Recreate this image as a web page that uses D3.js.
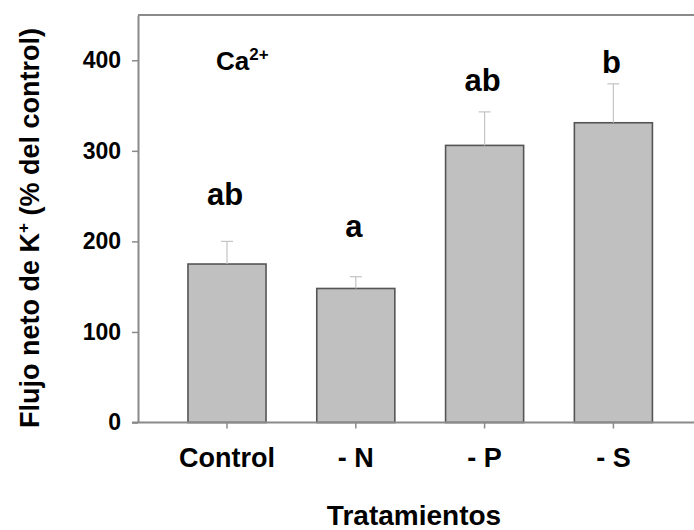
<!DOCTYPE html>
<html>
<head>
<meta charset="utf-8">
<script src="https://cdn.jsdelivr.net/npm/d3@7"></script>
<style>
  html, body { margin: 0; padding: 0; background: #fff; }
  svg { display: block; font-family: "Liberation Sans", Arial, Helvetica, sans-serif; font-weight: bold; }
</style>
</head>
<body>
<svg id="chart" width="694" height="530"></svg>
<script>
// Net K+ flux per treatment, % of control (Ca2+ medium)
const treatments = ["Control", "- N", "- P", "- S"];
const fluxMean = [175, 148, 306, 331];
const fluxSE = [25, 13, 37, 43];
const groupLetters = ["ab", "a", "ab", "b"];
const yTicks = [0, 100, 200, 300, 400];

// level (in % units) at which each significance letter sits
const letterLevel = [240, 205, 366, 386];

const svg = d3.select("#chart");
const plotLeft = 138, plotTop = 15, plotBottom = 422.5, plotRight = 720;

const y = d3.scaleLinear().domain([0, 450]).range([plotBottom, plotTop]);
const x = d3.scaleBand()
  .domain(treatments)
  .range([162.6, 677.8])
  .paddingInner(0.394)
  .paddingOuter(0.197);

const axisColor = "#8a8a8a";
const fontFam = "'Liberation Sans', Arial, sans-serif";

// frame: top edge and baseline run past the right side
svg.append("line")
  .attr("x1", plotLeft).attr("x2", plotRight)
  .attr("y1", y(450)).attr("y2", y(450))
  .attr("stroke", axisColor).attr("stroke-width", 2);

// bars
svg.append("g").selectAll("rect")
  .data(treatments)
  .join("rect")
  .attr("x", d => x(d))
  .attr("width", x.bandwidth())
  .attr("y", (d, i) => y(fluxMean[i]))
  .attr("height", (d, i) => y(0) - y(fluxMean[i]))
  .attr("fill", "#c0c0c0")
  .attr("stroke", "#555")
  .attr("stroke-width", 1.6);

// upper error bars
const err = svg.append("g").attr("stroke", "#c4c4c4").attr("stroke-width", 1.2);
treatments.forEach((d, i) => {
  const cx = x(d) + x.bandwidth() / 2;
  err.append("line")
    .attr("x1", cx).attr("x2", cx)
    .attr("y1", y(fluxMean[i])).attr("y2", y(fluxMean[i] + fluxSE[i]));
  err.append("line")
    .attr("x1", cx - 6).attr("x2", cx + 6)
    .attr("y1", y(fluxMean[i] + fluxSE[i])).attr("y2", y(fluxMean[i] + fluxSE[i]));
});

// y axis
const yAxis = svg.append("g")
  .attr("transform", `translate(${plotLeft},0)`)
  .call(d3.axisLeft(y).tickValues(yTicks).tickSize(6).tickSizeOuter(0).tickPadding(11));
yAxis.select(".domain").attr("stroke", axisColor).attr("stroke-width", 2);
yAxis.selectAll(".tick line").attr("stroke", axisColor).attr("stroke-width", 1.5);
yAxis.selectAll(".tick text")
  .attr("fill", "#000").style("font-size", "23px").style("font-weight", "bold")
  .style("font-family", fontFam);

// x axis
const xAxis = svg.append("g")
  .attr("transform", `translate(0,${plotBottom})`)
  .call(d3.axisBottom(x).tickSize(6).tickSizeOuter(0).tickPadding(19));
xAxis.select(".domain").remove();
xAxis.append("line")
  .attr("x1", plotLeft - 6).attr("x2", plotRight)
  .attr("stroke", axisColor).attr("stroke-width", 2);
xAxis.selectAll(".tick line").attr("stroke", axisColor).attr("stroke-width", 1.5);
xAxis.selectAll(".tick text")
  .attr("fill", "#000").style("font-size", "27px").style("font-weight", "bold")
  .style("font-family", fontFam);

// significance letters
svg.append("g").selectAll("text")
  .data(treatments)
  .join("text")
  .attr("x", d => x(d) + x.bandwidth() / 2 - 2)
  .attr("y", (d, i) => y(letterLevel[i]))
  .attr("text-anchor", "middle")
  .style("font-size", "31px")
  .text((d, i) => groupLetters[i]);

// ion label
const ion = svg.append("text").attr("x", 216).attr("y", 70).style("font-size", "26px");
ion.append("tspan").text("Ca");
ion.append("tspan").attr("dy", -10).style("font-size", "17px").text("2+");

// axis titles
const yt = svg.append("text")
  .attr("transform", "translate(39,228) rotate(-90)")
  .attr("text-anchor", "middle")
  .style("font-size", "27px");
yt.append("tspan").text("Flujo neto de K");
yt.append("tspan").attr("dy", -10).style("font-size", "17px").text("+");
yt.append("tspan").attr("dy", 10).text(" (% del control)");

svg.append("text")
  .attr("x", 414).attr("y", 525)
  .attr("text-anchor", "middle")
  .style("font-size", "28px")
  .text("Tratamientos");
</script>
</body>
</html>
